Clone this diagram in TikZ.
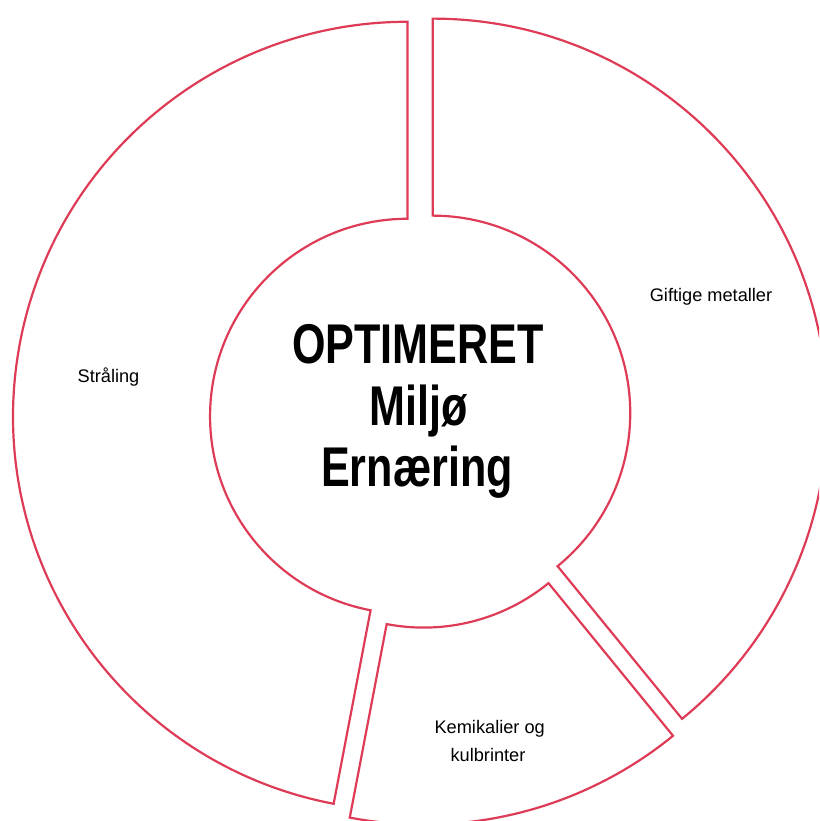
\documentclass[tikz,border=0pt]{standalone}
\usepackage{fontspec}
\setmainfont{Liberation Sans}
\newfontfamily\titlefont[FakeStretch=0.77]{Liberation Sans}
\newfontfamily\labelfont[FakeStretch=1.0]{Liberation Sans}
\definecolor{segred}{RGB}{222,60,86}
\newcommand\donutseg[3]{%
  \draw[segment] ([shift={(#2:197.5)}]#1) arc[start angle=#2,end angle=#3,radius=197.5]
    -- ([shift={(#3:394.5)}]#1) arc[start angle=#3,end angle=#2,radius=394.5] -- cycle;}
\begin{document}
\begin{tikzpicture}[x=1pt,y=1pt,
  segment/.style={draw=segred, line width=2.2pt, line join=miter},
  lbl/.style={font=\labelfont\fontsize{18.2}{21}\selectfont, inner sep=0pt, anchor=base},
  ttl/.style={font=\titlefont\bfseries\fontsize{56}{62}\selectfont, inner sep=0pt, anchor=base}]
\useasboundingbox (0,0) rectangle (819,821);
\clip (0,0) rectangle (819,821);
\coordinate (C) at (420.5,403.5);
\coordinate (cg) at ([shift={(19.6:13)}]C);
\coordinate (cs) at ([shift={(174.6:13)}]C);
\coordinate (ck) at ([shift={(-75.8:13)}]C);
\donutseg{cg}{-50.8}{90}
\donutseg{cs}{90}{259.2}
\donutseg{ck}{-100.8}{-50.8}
\node[lbl] (g) at (711,519) {Giftige metaller};
\node[lbl] (s) at (108.5,438) {Stråling};
\node[lbl] (k1) at (489.7,87.7) {Kemikalier og};
\node[lbl] (k2) at (488,59.3) {kulbrinter};
\node[ttl] (t1) at (418,457.7) {OPTIMERET};
\node[ttl] (t2) at (419,395.5) {Miljø};
\node[ttl] (t3) at (417,334.3) {Ernæring};
\end{tikzpicture}
\end{document}
